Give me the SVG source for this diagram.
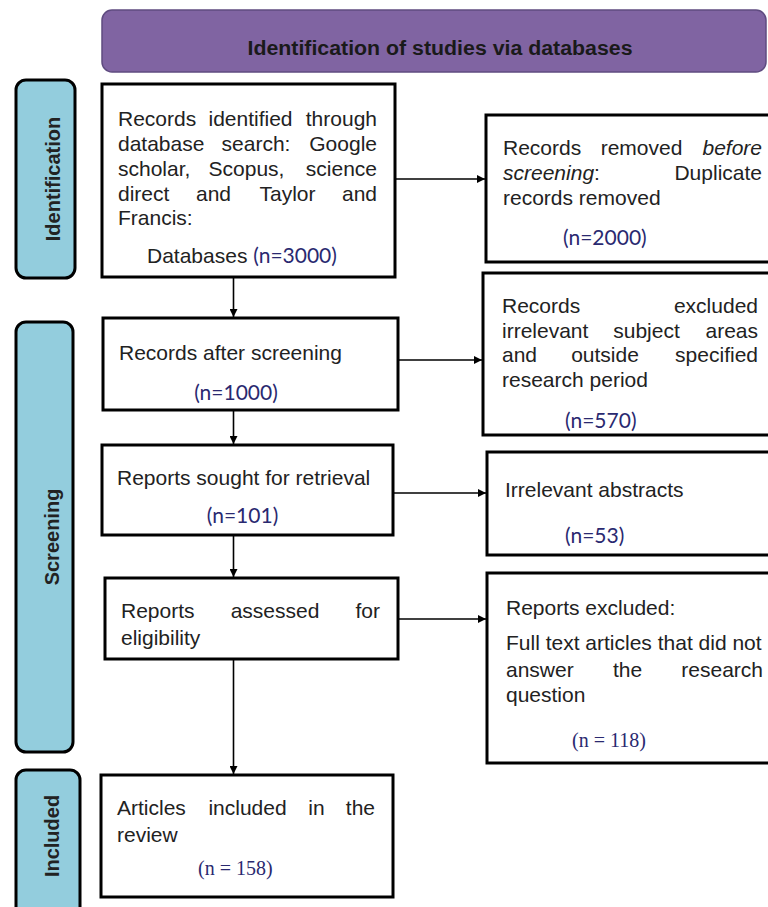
<svg xmlns="http://www.w3.org/2000/svg" width="768" height="907" viewBox="0 0 768 907">
<style>
.box{fill:#fff;stroke:#000;stroke-width:3}
.side{fill:#93CDDD;stroke:#000;stroke-width:3}
.t{font-family:"Liberation Sans",Arial,sans-serif;font-size:21px;fill:#222}
.lab{font-family:"Liberation Sans",Arial,sans-serif;font-size:20px;font-weight:bold;fill:#222}
.n{font-family:Lato,"Liberation Sans",sans-serif;font-size:21px;fill:#2A2970}
.ns{font-family:"Liberation Serif","Times New Roman",serif;font-size:20px;fill:#2A2970}
.c{fill:none;stroke:#000;stroke-width:1.6}
</style>
<defs>
<marker id="ah" viewBox="0 0 10 10" refX="10" refY="5" markerWidth="8" markerHeight="8" markerUnits="userSpaceOnUse" orient="auto">
<path d="M0,0 L10,5 L0,10 z" fill="#000"/>
</marker>
</defs>

<g id="banner">
<rect x="102" y="10" width="664" height="62" rx="10" fill="#8064A2" stroke="#5F4B80" stroke-width="1.5"/>
<text x="440" y="55" text-anchor="middle" font-family="'Liberation Sans',Arial,sans-serif" font-size="20" font-weight="bold" fill="#1a1a1a" textLength="385" lengthAdjust="spacingAndGlyphs">Identification of studies via databases</text>
</g>

<g id="label-identification">
<rect class="side" x="16" y="80" width="59" height="198" rx="10"/>
<text class="lab" transform="translate(53,179) rotate(-90)" text-anchor="middle" dominant-baseline="central">Identification</text>
</g>
<g id="label-screening">
<rect class="side" x="16" y="322" width="57" height="430" rx="10"/>
<text class="lab" transform="translate(52,537) rotate(-90)" text-anchor="middle" dominant-baseline="central">Screening</text>
</g>
<g id="label-included">
<rect class="side" x="16" y="770" width="64" height="160" rx="10"/>
<text class="lab" transform="translate(52,836) rotate(-90)" text-anchor="middle" dominant-baseline="central">Included</text>
</g>

<g id="connectors">
<line class="c" x1="233.5" y1="278" x2="233.5" y2="317" marker-end="url(#ah)"/>
<line class="c" x1="233.5" y1="411" x2="233.5" y2="444" marker-end="url(#ah)"/>
<line class="c" x1="233.5" y1="536" x2="233.5" y2="577" marker-end="url(#ah)"/>
<line class="c" x1="233.5" y1="660" x2="233.5" y2="774" marker-end="url(#ah)"/>
<line class="c" x1="396" y1="179" x2="485" y2="179" marker-end="url(#ah)"/>
<line class="c" x1="399" y1="360" x2="482" y2="360" marker-end="url(#ah)"/>
<line class="c" x1="394" y1="493" x2="486" y2="493" marker-end="url(#ah)"/>
<line class="c" x1="399" y1="619" x2="486" y2="619" marker-end="url(#ah)"/>
</g>

<g id="records-identified">
<rect class="box" x="102" y="84" width="293" height="193"/>
<text class="t" y="126"><tspan x="118">Records</tspan><tspan x="250.5" text-anchor="middle">identified</tspan><tspan x="377" text-anchor="end">through</tspan></text>
<text class="t" y="151"><tspan x="118">database</tspan><tspan x="256" text-anchor="middle">search:</tspan><tspan x="377" text-anchor="end">Google</tspan></text>
<text class="t" y="176"><tspan x="118">scholar,</tspan><tspan x="246.5" text-anchor="middle">Scopus,</tspan><tspan x="377" text-anchor="end">science</tspan></text>
<text class="t" y="201"><tspan x="118">direct</tspan><tspan x="213.5" text-anchor="middle">and</tspan><tspan x="287.5" text-anchor="middle">Taylor</tspan><tspan x="377" text-anchor="end">and</tspan></text>
<text class="t" x="118" y="225">Francis:</text>
<text y="263"><tspan class="t" x="147">Databases </tspan><tspan class="n">(n=3000)</tspan></text>
</g>

<g id="removed-before-screening">
<rect class="box" x="486" y="115" width="300" height="147"/>
<text class="t" y="155"><tspan x="503">Records</tspan><tspan x="641.5" text-anchor="middle">removed</tspan><tspan x="762" text-anchor="end" font-style="italic">before</tspan></text>
<text class="t" y="180"><tspan x="503" font-style="italic">screening</tspan><tspan>:</tspan><tspan x="762" text-anchor="end">Duplicate</tspan></text>
<text class="t" x="503" y="205">records removed</text>
<text class="n" x="563" y="245">(n=2000)</text>
</g>

<g id="records-after-screening">
<rect class="box" x="103" y="318" width="295" height="92"/>
<text class="t" x="119" y="360">Records after screening</text>
<text class="n" x="236" y="400" text-anchor="middle">(n=1000)</text>
</g>

<g id="records-excluded">
<rect class="box" x="483" y="273" width="300" height="162"/>
<text class="t" y="313"><tspan x="502">Records</tspan><tspan x="758" text-anchor="end">excluded</tspan></text>
<text class="t" y="338"><tspan x="502">irrelevant</tspan><tspan x="646.5" text-anchor="middle">subject</tspan><tspan x="758" text-anchor="end">areas</tspan></text>
<text class="t" y="362"><tspan x="502">and</tspan><tspan x="605" text-anchor="middle">outside</tspan><tspan x="758" text-anchor="end">specified</tspan></text>
<text class="t" x="502" y="387">research period</text>
<text class="n" x="565" y="428">(n=570)</text>
</g>

<g id="reports-sought">
<rect class="box" x="102" y="445" width="291" height="90"/>
<text class="t" x="117" y="485">Reports sought for retrieval</text>
<text class="n" x="242.5" y="523" text-anchor="middle">(n=101)</text>
</g>

<g id="irrelevant-abstracts">
<rect class="box" x="487" y="452" width="300" height="103"/>
<text class="t" x="505" y="497">Irrelevant abstracts</text>
<text class="n" x="565" y="543">(n=53)</text>
</g>

<g id="reports-assessed">
<rect class="box" x="105" y="578" width="293" height="81"/>
<text class="t" y="618"><tspan x="121">Reports</tspan><tspan x="275" text-anchor="middle">assessed</tspan><tspan x="380" text-anchor="end">for</tspan></text>
<text class="t" x="121" y="645">eligibility</text>
</g>

<g id="reports-excluded">
<rect class="box" x="487" y="573" width="300" height="190"/>
<text class="t" x="506" y="615">Reports excluded:</text>
<text class="t" x="506" y="650">Full text articles that did not</text>
<text class="t" y="677"><tspan x="506">answer</tspan><tspan x="627.5" text-anchor="middle">the</tspan><tspan x="763" text-anchor="end">research</tspan></text>
<text class="t" x="506" y="702">question</text>
<text class="ns" x="572" y="747">(n = 118)</text>
</g>

<g id="articles-included">
<rect class="box" x="101" y="775" width="292" height="122"/>
<text class="t" y="815"><tspan x="117">Articles</tspan><tspan x="247.5" text-anchor="middle">included</tspan><tspan x="316.5" text-anchor="middle">in</tspan><tspan x="375" text-anchor="end">the</tspan></text>
<text class="t" x="117" y="842">review</text>
<text class="ns" x="198" y="875">(n = 158)</text>
</g>
</svg>
